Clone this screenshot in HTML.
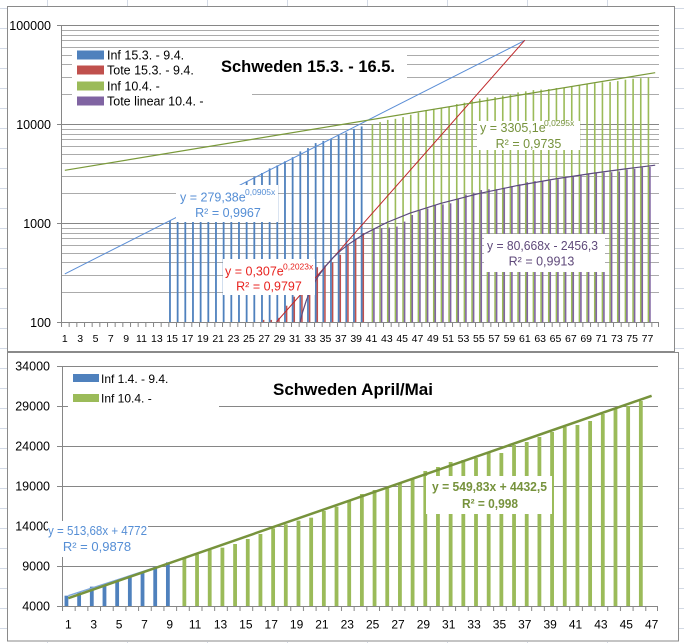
<!DOCTYPE html>
<html><head><meta charset="utf-8"><style>html,body{margin:0;padding:0;background:#fff}svg{display:block}</style></head>
<body>
<svg width="684" height="643" viewBox="0 0 684 643" xmlns="http://www.w3.org/2000/svg" font-family="'Liberation Sans', Arial, sans-serif">
<defs>
<pattern id="tk1" x="61" y="0" width="7.667" height="20" patternUnits="userSpaceOnUse"><rect x="0" y="0" width="1" height="20" fill="#868686"/></pattern>
<pattern id="tk2" x="62" y="0" width="12.68" height="20" patternUnits="userSpaceOnUse"><rect x="0" y="0" width="1" height="20" fill="#868686"/></pattern>
</defs>
<rect width="684" height="643" fill="#fff"/>
<!-- sheet grid -->
<g stroke="#D3DAE6" stroke-width="1">
<path d="M0 8.5H7M0 28.5H7M0 48.5H7M0 68.5H7M0 88.5H7M0 108.5H7M0 128.5H7M0 148.5H7M0 168.5H7M0 188.5H7M0 208.5H7M0 228.5H7M0 248.5H7M0 268.5H7M0 288.5H7M0 308.5H7M0 328.5H7M0 348.5H7M0 368.5H7M0 388.5H7M0 408.5H7M0 428.5H7M0 448.5H7M0 468.5H7M0 488.5H7M0 508.5H7M0 528.5H7M0 548.5H7M0 568.5H7M0 588.5H7M0 608.5H7M0 628.5H7"/>
<path d="M675 8.5H684M675 28.5H684M675 48.5H684M675 68.5H684M675 88.5H684M675 108.5H684M675 128.5H684M675 148.5H684M675 168.5H684M675 188.5H684M675 208.5H684M675 228.5H684M675 248.5H684M675 268.5H684M675 288.5H684M675 308.5H684M675 328.5H684M675 348.5H684M679 368.5H684M679 388.5H684M679 408.5H684M679 428.5H684M679 448.5H684M679 468.5H684M679 488.5H684M679 508.5H684M679 528.5H684M679 548.5H684M679 568.5H684M679 588.5H684M679 608.5H684M679 628.5H684"/>
<path d="M47.5 0V6M127.5 0V6M207.5 0V6M287.5 0V6M367.5 0V6M447.5 0V6M527.5 0V6M607.5 0V6M47.5 642V643M127.5 642V643M207.5 642V643M287.5 642V643M367.5 642V643M447.5 642V643M527.5 642V643M607.5 642V643"/>
</g>
<!-- frames -->
<rect x="7.5" y="6.5" width="667" height="345" fill="#fff" stroke="#8A8A8A"/>
<rect x="7.5" y="352.5" width="671" height="288.5" fill="#fff" stroke="#8A8A8A"/>

<!-- ================= TOP CHART ================= -->
<g stroke="#ABABAB" stroke-width="1">
<path d="M61 30.5H659M61 35.5H659M61 40.5H659M61 47.5H659M61 55.5H659M61 64.5H659M61 77.5H659M61 94.5H659M61 129.5H659M61 134.5H659M61 139.5H659M61 146.5H659M61 154.5H659M61 163.5H659M61 176.5H659M61 193.5H659M61 228.5H659M61 233.5H659M61 238.5H659M61 245.5H659M61 253.5H659M61 262.5H659M61 275.5H659M61 292.5H659"/>
</g>
<g stroke="#868686" stroke-width="1">
<path d="M61 25.5H659M61 124.5H659M61 223.5H659"/>
</g>
<!-- blue bars -->
<g fill="#4F81BD">
<rect x="169.07" y="220.5" width="1.8" height="101.5"/>
<rect x="176.74" y="217.4" width="1.8" height="104.6"/>
<rect x="184.40" y="214.1" width="1.8" height="107.9"/>
<rect x="192.07" y="210.7" width="1.8" height="111.3"/>
<rect x="199.74" y="205.6" width="1.8" height="116.4"/>
<rect x="207.41" y="200.2" width="1.8" height="121.8"/>
<rect x="215.07" y="197.0" width="1.8" height="125.0"/>
<rect x="222.74" y="193.2" width="1.8" height="128.8"/>
<rect x="230.41" y="190.5" width="1.8" height="131.5"/>
<rect x="238.07" y="185.7" width="1.8" height="136.3"/>
<rect x="245.74" y="181.4" width="1.8" height="140.6"/>
<rect x="253.41" y="176.5" width="1.8" height="145.5"/>
<rect x="261.08" y="173.0" width="1.8" height="149.0"/>
<rect x="268.74" y="168.4" width="1.8" height="153.6"/>
<rect x="276.41" y="165.4" width="1.8" height="156.6"/>
<rect x="284.08" y="161.3" width="1.8" height="160.7"/>
<rect x="291.74" y="157.2" width="1.8" height="164.8"/>
<rect x="299.41" y="151.4" width="1.8" height="170.6"/>
<rect x="307.08" y="148.1" width="1.8" height="173.9"/>
<rect x="314.75" y="143.1" width="1.8" height="178.9"/>
<rect x="322.41" y="140.9" width="1.8" height="181.1"/>
<rect x="330.08" y="139.1" width="1.8" height="182.9"/>
<rect x="337.75" y="135.4" width="1.8" height="186.6"/>
<rect x="345.41" y="132.5" width="1.8" height="189.5"/>
<rect x="353.08" y="128.9" width="1.8" height="193.1"/>
<rect x="360.75" y="126.4" width="1.8" height="195.6"/>
</g>
<!-- red bars -->
<g fill="#C0504D">
<rect x="262.88" y="319.9" width="1.5" height="2.1"/>
<rect x="270.54" y="319.9" width="1.5" height="2.1"/>
<rect x="278.21" y="317.9" width="1.5" height="4.1"/>
<rect x="285.88" y="305.7" width="1.5" height="16.3"/>
<rect x="293.54" y="296.7" width="1.5" height="25.3"/>
<rect x="301.21" y="284.5" width="1.5" height="37.5"/>
<rect x="308.88" y="273.6" width="1.5" height="48.4"/>
<rect x="316.55" y="267.2" width="1.5" height="54.8"/>
<rect x="324.21" y="265.4" width="1.5" height="56.6"/>
<rect x="331.88" y="262.3" width="1.5" height="59.7"/>
<rect x="339.55" y="254.8" width="1.5" height="67.2"/>
<rect x="347.21" y="245.6" width="1.5" height="76.4"/>
<rect x="354.88" y="239.1" width="1.5" height="82.9"/>
<rect x="362.55" y="233.0" width="1.5" height="89.0"/>
</g>
<!-- green bars -->
<g fill="#9BBB59">
<rect x="371.62" y="124.2" width="1.6" height="197.8"/>
<rect x="379.28" y="122.1" width="1.6" height="199.9"/>
<rect x="386.95" y="119.9" width="1.6" height="202.1"/>
<rect x="394.62" y="118.8" width="1.6" height="203.2"/>
<rect x="402.28" y="117.1" width="1.6" height="204.9"/>
<rect x="409.95" y="114.8" width="1.6" height="207.2"/>
<rect x="417.62" y="112.7" width="1.6" height="209.3"/>
<rect x="425.29" y="110.4" width="1.6" height="211.6"/>
<rect x="432.95" y="108.9" width="1.6" height="213.1"/>
<rect x="440.62" y="107.5" width="1.6" height="214.5"/>
<rect x="448.29" y="106.5" width="1.6" height="215.5"/>
<rect x="455.95" y="104.1" width="1.6" height="217.9"/>
<rect x="463.62" y="102.7" width="1.6" height="219.3"/>
<rect x="471.29" y="100.6" width="1.6" height="221.4"/>
<rect x="478.95" y="98.7" width="1.6" height="223.3"/>
<rect x="486.62" y="97.5" width="1.6" height="224.5"/>
<rect x="494.29" y="97.1" width="1.6" height="224.9"/>
<rect x="501.96" y="95.6" width="1.6" height="226.4"/>
<rect x="509.62" y="94.2" width="1.6" height="227.8"/>
<rect x="517.29" y="92.4" width="1.6" height="229.6"/>
<rect x="524.96" y="91.3" width="1.6" height="230.7"/>
<rect x="532.62" y="90.1" width="1.6" height="231.9"/>
<rect x="540.29" y="89.6" width="1.6" height="232.4"/>
<rect x="547.96" y="89.1" width="1.6" height="232.9"/>
<rect x="555.63" y="88.0" width="1.6" height="234.0"/>
<rect x="563.29" y="88.0" width="1.6" height="234.0"/>
<rect x="570.96" y="86.1" width="1.6" height="235.9"/>
<rect x="578.63" y="85.5" width="1.6" height="236.5"/>
<rect x="586.29" y="84.4" width="1.6" height="237.6"/>
<rect x="593.96" y="83.3" width="1.6" height="238.7"/>
<rect x="601.63" y="82.3" width="1.6" height="239.7"/>
<rect x="609.29" y="81.9" width="1.6" height="240.1"/>
<rect x="616.96" y="81.1" width="1.6" height="240.9"/>
<rect x="624.63" y="79.7" width="1.6" height="242.3"/>
<rect x="632.30" y="78.8" width="1.6" height="243.2"/>
<rect x="639.96" y="78.2" width="1.6" height="243.8"/>
<rect x="647.63" y="77.3" width="1.6" height="244.7"/>
</g>
<!-- purple bars -->
<g fill="#8064A2">
<rect x="373.12" y="229.0" width="1.6" height="93.0"/>
<rect x="380.78" y="228.2" width="1.6" height="93.8"/>
<rect x="388.45" y="227.6" width="1.6" height="94.4"/>
<rect x="396.12" y="226.6" width="1.6" height="95.4"/>
<rect x="403.78" y="221.6" width="1.6" height="100.4"/>
<rect x="411.45" y="215.0" width="1.6" height="107.0"/>
<rect x="419.12" y="210.6" width="1.6" height="111.4"/>
<rect x="426.79" y="208.5" width="1.6" height="113.5"/>
<rect x="434.45" y="205.3" width="1.6" height="116.7"/>
<rect x="442.12" y="204.4" width="1.6" height="117.6"/>
<rect x="449.79" y="203.3" width="1.6" height="118.7"/>
<rect x="457.45" y="198.6" width="1.6" height="123.4"/>
<rect x="465.12" y="194.6" width="1.6" height="127.4"/>
<rect x="472.79" y="192.7" width="1.6" height="129.3"/>
<rect x="480.45" y="190.0" width="1.6" height="132.0"/>
<rect x="488.12" y="189.2" width="1.6" height="132.8"/>
<rect x="495.79" y="189.2" width="1.6" height="132.8"/>
<rect x="503.46" y="187.7" width="1.6" height="134.3"/>
<rect x="511.12" y="186.2" width="1.6" height="135.8"/>
<rect x="518.79" y="184.3" width="1.6" height="137.7"/>
<rect x="526.46" y="182.2" width="1.6" height="139.8"/>
<rect x="534.12" y="181.1" width="1.6" height="140.9"/>
<rect x="541.79" y="180.8" width="1.6" height="141.2"/>
<rect x="549.46" y="180.6" width="1.6" height="141.4"/>
<rect x="557.13" y="179.2" width="1.6" height="142.8"/>
<rect x="564.79" y="177.9" width="1.6" height="144.1"/>
<rect x="572.46" y="176.6" width="1.6" height="145.4"/>
<rect x="580.13" y="175.2" width="1.6" height="146.8"/>
<rect x="587.79" y="173.3" width="1.6" height="148.7"/>
<rect x="595.46" y="172.7" width="1.6" height="149.3"/>
<rect x="603.13" y="172.7" width="1.6" height="149.3"/>
<rect x="610.79" y="172.2" width="1.6" height="149.8"/>
<rect x="618.46" y="171.5" width="1.6" height="150.5"/>
<rect x="626.13" y="169.6" width="1.6" height="152.4"/>
<rect x="633.80" y="168.8" width="1.6" height="153.2"/>
<rect x="641.46" y="167.4" width="1.6" height="154.6"/>
<rect x="649.13" y="166.8" width="1.6" height="155.2"/>
</g>
<!-- top trendlines -->
<g fill="none">
<path d="M64.83 273.94L524.85 40.48" stroke="#5B8ED6" stroke-width="1"/>
<path d="M276.45 322L524.85 40.19" stroke="#C0282A" stroke-width="1"/>
<path d="M64.83 170.33L655.19 72.67" stroke="#7A9A3A" stroke-width="1.2"/>
<polyline points="300.13,322 300.97,318.3 302.51,312.4 306.34,300.4 310.18,291.0 314.0,283.3 317.85,276.8 325.51,266.1 333.18,257.6 340.85,250.4 348.51,244.3 363.85,234.2 386.85,222.5 409.85,213.2 440.52,203.4 478.85,193.6 517.19,185.6 555.53,178.9 593.86,173.1 624.53,169.0 655.19,165.2" stroke="#5C4A7E" stroke-width="1.2"/>
</g>
<!-- top axes -->
<g stroke="#868686" stroke-width="1" fill="none">
<path d="M61.5 25V323"/>
<path d="M61 322.5H659"/>
<path d="M57 25.5H61M57 124.5H61M57 223.5H61M57 322.5H61"/>
<path d="M658.5 322V327"/>
</g>
<rect x="61" y="323" width="597" height="4" fill="url(#tk1)"/>
<!-- top y labels -->
<g font-size="12.5" text-anchor="end" fill="#000">
<text x="51" y="30">100000</text>
<text x="51" y="129">10000</text>
<text x="51" y="228">1000</text>
<text x="51" y="327">100</text>
</g>
<!-- top x labels -->
<g font-size="10.5" text-anchor="middle" fill="#000">
<text x="64.83" y="342">1</text><text x="80.17" y="342">3</text><text x="95.50" y="342">5</text><text x="110.84" y="342">7</text><text x="126.17" y="342">9</text><text x="141.50" y="342">11</text><text x="156.84" y="342">13</text><text x="172.17" y="342">15</text><text x="187.50" y="342">17</text><text x="202.84" y="342">19</text><text x="218.17" y="342">21</text><text x="233.51" y="342">23</text><text x="248.84" y="342">25</text><text x="264.18" y="342">27</text><text x="279.51" y="342">29</text><text x="294.84" y="342">31</text><text x="310.18" y="342">33</text><text x="325.51" y="342">35</text><text x="340.85" y="342">37</text><text x="356.18" y="342">39</text><text x="371.52" y="342">41</text><text x="386.85" y="342">43</text><text x="402.18" y="342">45</text><text x="417.52" y="342">47</text><text x="432.85" y="342">49</text><text x="448.19" y="342">51</text><text x="463.52" y="342">53</text><text x="478.85" y="342">55</text><text x="494.19" y="342">57</text><text x="509.52" y="342">59</text><text x="524.86" y="342">61</text><text x="540.19" y="342">63</text><text x="555.53" y="342">65</text><text x="570.86" y="342">67</text><text x="586.19" y="342">69</text><text x="601.53" y="342">71</text><text x="616.86" y="342">73</text><text x="632.20" y="342">75</text><text x="647.53" y="342">77</text>
</g>
<!-- top trendline labels -->
<rect x="176" y="185" width="102" height="37" fill="#fff"/>
<text x="180" y="201.5" font-size="12.5" fill="#558ED5">y = 279,38e</text>
<text x="245" y="195" font-size="8.5" fill="#558ED5">0,0905x</text>
<text x="228" y="217" font-size="12.5" fill="#558ED5" text-anchor="middle">R² = 0,9967</text>

<rect x="223" y="259" width="92" height="36" fill="#fff"/>
<text x="225" y="275.5" font-size="12.5" fill="#E8231F">y = 0,307e</text>
<text x="283" y="269.5" font-size="8.5" fill="#E8231F">0,2023x</text>
<text x="269" y="290.5" font-size="12.5" fill="#E8231F" text-anchor="middle">R² = 0,9797</text>

<rect x="477" y="121" width="103" height="29" fill="#fff"/>
<text x="480" y="132" font-size="12.5" fill="#76923C">y = 3305,1e</text>
<text x="544" y="126" font-size="8.5" fill="#76923C">0,0295x</text>
<text x="528.5" y="148" font-size="12.5" fill="#76923C" text-anchor="middle">R² = 0,9735</text>

<rect x="484" y="234" width="121" height="38" fill="#fff"/>
<text x="542.5" y="250" font-size="12.5" fill="#5F497A" text-anchor="middle" textLength="111" lengthAdjust="spacingAndGlyphs">y = 80,668x - 2456,3</text>
<text x="541.5" y="265.5" font-size="12.5" fill="#5F497A" text-anchor="middle">R² = 0,9913</text>

<!-- top legend & title -->
<rect x="72" y="49" width="180" height="60" fill="#fff"/>
<rect x="215" y="49" width="192" height="40" fill="#fff"/>
<rect x="77" y="50.5" width="27" height="9" fill="#4F81BD"/>
<rect x="77" y="65.5" width="27" height="9" fill="#C0504D"/>
<rect x="77" y="81.5" width="27" height="9" fill="#9BBB59"/>
<rect x="77" y="96.5" width="27" height="9" fill="#8064A2"/>
<g font-size="12.5" fill="#000">
<text x="107" y="59.5">Inf 15.3. - 9.4.</text>
<text x="107" y="74.5">Tote 15.3. - 9.4.</text>
<text x="107" y="90.5">Inf 10.4. -</text>
<text x="107" y="105.5">Tote linear 10.4. -</text>
</g>
<text x="221" y="72" font-size="17" font-weight="bold" fill="#000" textLength="174" lengthAdjust="spacingAndGlyphs">Schweden 15.3. - 16.5.</text>

<!-- ================= BOTTOM CHART ================= -->
<g stroke="#868686" stroke-width="1">
<path d="M62 366.5H658M62 406.5H658M62 446.5H658M62 486.5H658M62 526.5H658M62 566.5H658"/>
</g>
<g fill="#4F81BD">
<rect x="64.54" y="595.68" width="3.8" height="10.32"/>
<rect x="77.22" y="592.32" width="3.8" height="13.68"/>
<rect x="89.90" y="586.66" width="3.8" height="19.34"/>
<rect x="102.58" y="584.0" width="3.8" height="22.0"/>
<rect x="115.26" y="581.68" width="3.8" height="24.32"/>
<rect x="127.94" y="576.66" width="3.8" height="29.34"/>
<rect x="140.62" y="572.34" width="3.8" height="33.66"/>
<rect x="153.30" y="566.66" width="3.8" height="39.34"/>
<rect x="165.98" y="562.34" width="3.8" height="43.66"/>
</g>
<g fill="#9BBB59">
<rect x="182.46" y="558.34" width="3.8" height="47.66"/>
<rect x="195.14" y="554.34" width="3.8" height="51.66"/>
<rect x="207.82" y="550.0" width="3.8" height="56.0"/>
<rect x="220.50" y="547.68" width="3.8" height="58.32"/>
<rect x="233.18" y="544.0" width="3.8" height="62.0"/>
<rect x="245.86" y="539.0" width="3.8" height="67.0"/>
<rect x="258.54" y="534.0" width="3.8" height="72.0"/>
<rect x="271.22" y="528.34" width="3.8" height="77.66"/>
<rect x="283.90" y="524.34" width="3.8" height="81.66"/>
<rect x="296.58" y="520.66" width="3.8" height="85.34"/>
<rect x="309.26" y="517.68" width="3.8" height="88.32"/>
<rect x="321.94" y="511.0" width="3.8" height="95.0"/>
<rect x="334.62" y="506.66" width="3.8" height="99.34"/>
<rect x="347.30" y="500.0" width="3.8" height="106.0"/>
<rect x="359.98" y="494.0" width="3.8" height="112.0"/>
<rect x="372.66" y="490.0" width="3.8" height="116.0"/>
<rect x="385.34" y="488.34" width="3.8" height="117.66"/>
<rect x="398.02" y="483.0" width="3.8" height="123.0"/>
<rect x="410.70" y="478.0" width="3.8" height="128.0"/>
<rect x="423.38" y="471.0" width="3.8" height="135.0"/>
<rect x="436.06" y="467.0" width="3.8" height="139.0"/>
<rect x="448.74" y="462.0" width="3.8" height="144.0"/>
<rect x="461.42" y="460.0" width="3.8" height="146.0"/>
<rect x="474.10" y="458.0" width="3.8" height="148.0"/>
<rect x="486.78" y="453.0" width="3.8" height="153.0"/>
<rect x="499.46" y="453.0" width="3.8" height="153.0"/>
<rect x="512.14" y="445.0" width="3.8" height="161.0"/>
<rect x="524.82" y="442.0" width="3.8" height="164.0"/>
<rect x="537.50" y="437.0" width="3.8" height="169.0"/>
<rect x="550.18" y="432.0" width="3.8" height="174.0"/>
<rect x="562.86" y="427.0" width="3.8" height="179.0"/>
<rect x="575.54" y="425.0" width="3.8" height="181.0"/>
<rect x="588.22" y="421.0" width="3.8" height="185.0"/>
<rect x="600.90" y="414.0" width="3.8" height="192.0"/>
<rect x="613.58" y="409.0" width="3.8" height="197.0"/>
<rect x="626.26" y="406.0" width="3.8" height="200.0"/>
<rect x="638.94" y="401.0" width="3.8" height="205.0"/>
</g>
<path d="M68.34 595.71L169.78 562.84" stroke="#7FA7DC" stroke-width="1.5" fill="none"/>
<path d="M68.34 598.14L651.62 395.8" stroke="#77933C" stroke-width="2.5" fill="none"/>
<g stroke="#868686" stroke-width="1" fill="none">
<path d="M62.5 366V607"/>
<path d="M62 606.5H658"/>
<path d="M57 366.5H62M57 406.5H62M57 446.5H62M57 486.5H62M57 526.5H62M57 566.5H62M57 606.5H62"/>
<path d="M657.5 606V611"/>
</g>
<rect x="62" y="607" width="595" height="4" fill="url(#tk2)"/>
<g font-size="12.5" text-anchor="end" fill="#000">
<text x="50" y="370.5">34000</text>
<text x="50" y="410.5">29000</text>
<text x="50" y="450.5">24000</text>
<text x="50" y="490.5">19000</text>
<text x="50" y="530.5">14000</text>
<text x="50" y="570.5">9000</text>
<text x="50" y="610.5">4000</text>
</g>
<g font-size="12" text-anchor="middle" fill="#000">
<text x="68.34" y="628.5">1</text><text x="93.70" y="628.5">3</text><text x="119.06" y="628.5">5</text><text x="144.42" y="628.5">7</text><text x="169.78" y="628.5">9</text><text x="195.14" y="628.5">11</text><text x="220.50" y="628.5">13</text><text x="245.86" y="628.5">15</text><text x="271.22" y="628.5">17</text><text x="296.58" y="628.5">19</text><text x="321.94" y="628.5">21</text><text x="347.30" y="628.5">23</text><text x="372.66" y="628.5">25</text><text x="398.02" y="628.5">27</text><text x="423.38" y="628.5">29</text><text x="448.74" y="628.5">31</text><text x="474.10" y="628.5">33</text><text x="499.46" y="628.5">35</text><text x="524.82" y="628.5">37</text><text x="550.18" y="628.5">39</text><text x="575.54" y="628.5">41</text><text x="600.90" y="628.5">43</text><text x="626.26" y="628.5">45</text><text x="651.62" y="628.5">47</text>
</g>
<!-- bottom trendline labels -->
<rect x="48" y="521" width="100" height="36" fill="#fff"/>
<text x="97.5" y="535" font-size="13" fill="#558ED5" text-anchor="middle" textLength="99" lengthAdjust="spacingAndGlyphs">y = 513,68x + 4772</text>
<text x="97" y="551" font-size="13" fill="#558ED5" text-anchor="middle">R² = 0,9878</text>

<rect x="426" y="476" width="126" height="38" fill="#fff"/>
<text x="489.5" y="491" font-size="13" font-weight="bold" fill="#76923C" text-anchor="middle" textLength="115" lengthAdjust="spacingAndGlyphs">y = 549,83x + 4432,5</text>
<text x="490" y="508" font-size="13" font-weight="bold" fill="#76923C" text-anchor="middle" textLength="56" lengthAdjust="spacingAndGlyphs">R² = 0,998</text>

<!-- bottom legend & title -->
<rect x="68" y="370" width="151" height="40" fill="#fff"/>
<rect x="73" y="374" width="26" height="8" fill="#4F81BD"/>
<rect x="73" y="394" width="26" height="8" fill="#9BBB59"/>
<g font-size="12" fill="#000">
<text x="101" y="383">Inf 1.4. - 9.4.</text>
<text x="101" y="402.5">Inf 10.4. -</text>
</g>
<text x="273" y="395" font-size="16.5" font-weight="bold" fill="#000" textLength="160" lengthAdjust="spacingAndGlyphs">Schweden April/Mai</text>
</svg>
</body></html>
